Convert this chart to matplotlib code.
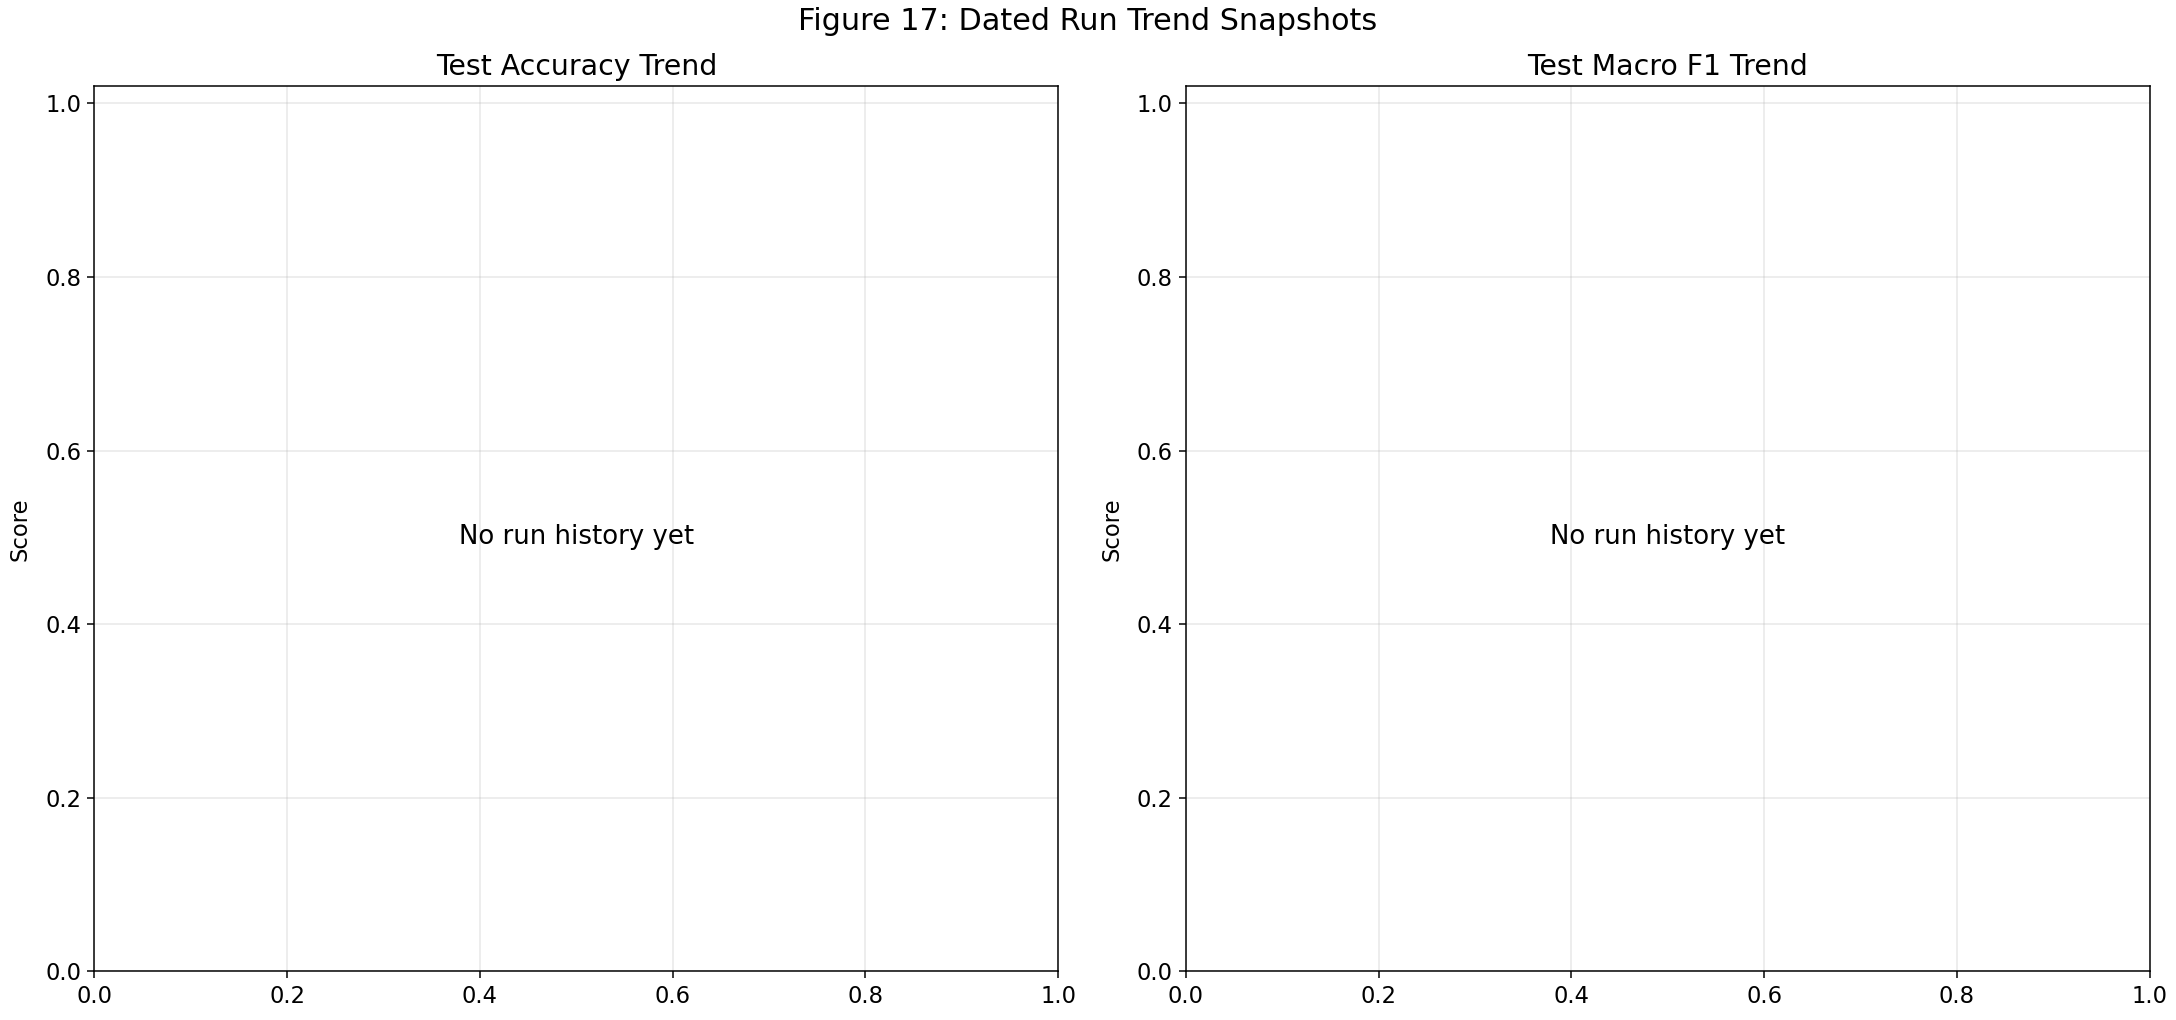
import matplotlib
matplotlib.use("Agg")
import matplotlib.pyplot as plt

panel_titles = ["Test Accuracy Trend", "Test Macro F1 Trend"]
empty_message = "No run history yet"
y_label = "Score"
suptitle = "Figure 17: Dated Run Trend Snapshots"

fig, axes = plt.subplots(1, 2, figsize=(16, 7.5), dpi=136)
fig.subplots_adjust(left=0.0434, right=0.9879, bottom=0.0476, top=0.9156,
                    wspace=0.1325)
for ax, title in zip(axes, panel_titles):
    ax.set_title(title, fontsize=15)
    ax.set_ylabel(y_label, fontsize=12, labelpad=7)
    ax.set_xlim(0, 1)
    ax.set_ylim(0, 1.02)
    ax.tick_params(labelsize=12)
    ax.grid(True, alpha=0.3)
    # no runs logged yet -> placeholder in data coords
    ax.text(0.5, 0.5, empty_message, ha="center", va="center", fontsize=13.8)

fig.suptitle(suptitle, fontsize=16, y=0.993)
fig.savefig("out.png", dpi=136)
